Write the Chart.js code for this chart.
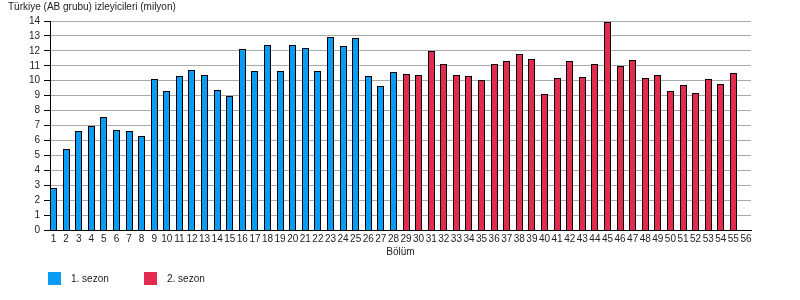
<!DOCTYPE html>
<html>
<head>
<meta charset="utf-8">
<script src="https://cdn.jsdelivr.net/npm/chart.js@4/dist/chart.umd.min.js"></script>
<style>
html,body{margin:0;padding:0;background:#fff;}
#wrap{width:800px;height:300px;}
</style>
</head>
<body>
<div id="wrap"><canvas id="c" width="800" height="300"></canvas></div>
<script>
const titleText = "Türkiye (AB grubu) izleyicileri (milyon)";
const xTitle = "Bölüm";
const seriesNames = ["1. sezon", "2. sezon"];
const season1Episodes = [1,2,3,4,5,6,7,8,9,10,11,12,13,14,15,16,17,18,19,20,21,22,23,24,25,26,27,28];
const season1Values = [2.8,5.45,6.6,7.0,7.6,6.7,6.65,6.3,10.1,9.3,10.3,10.7,10.4,9.4,9.0,12.1,10.65,12.4,10.65,12.4,12.2,10.65,12.9,12.3,12.85,10.3,9.65,10.6];
const season2Episodes = [29,30,31,32,33,34,35,36,37,38,39,40,41,42,43,44,45,46,47,48,49,50,51,52,53,54,55];
const season2Values = [10.45,10.4,12.0,11.1,10.4,10.3,10.05,11.1,11.3,11.8,11.45,9.1,10.2,11.3,10.25,11.1,13.95,11.0,11.4,10.2,10.4,9.3,9.7,9.2,10.1,9.8,10.5];
const xTickLabels = [1,2,3,4,5,6,7,8,9,10,11,12,13,14,15,16,17,18,19,20,21,22,23,24,25,26,27,28,29,30,31,32,33,34,35,36,37,38,39,40,41,42,43,44,45,46,47,48,49,50,51,52,53,54,55,56];
const yTickValues = [0,1,2,3,4,5,6,7,8,9,10,11,12,13,14];
const colors = ["#0A9BF5", "#E32B50"];

const FONT = "'Liberation Sans', Arial, sans-serif";

const pts = (xs, ys) => xs.map((x, i) => ({x: x, y: ys[i]}));

// Snap bar edges to whole pixels so the 1px outlines stay crisp
const snapPlugin = {
  id: 'snapBars',
  beforeDatasetsDraw(chart) {
    chart.data.datasets.forEach((ds, di) => {
      const meta = chart.getDatasetMeta(di);
      meta.data.forEach(el => {
        if (el.skip) return;
        const w = 7;
        const left = Math.round(el.x - w / 2);
        el.x = left + w / 2;
        el.width = w;
        el.y = Math.round(el.y);
        el.base = Math.round(el.base);
      });
    });
  }
};

const legendPlugin = {
  id: 'customLegend',
  afterDraw(chart) {
    const ctx = chart.ctx;
    ctx.save();
    ctx.font = "10px " + FONT;
    ctx.textBaseline = 'middle';
    ctx.textAlign = 'left';
    chart.data.datasets.forEach((ds, i) => {
      const x = 48 + i * 96;
      const y = 272;
      ctx.fillStyle = ds.backgroundColor;
      ctx.fillRect(x, y, 13, 13);
      ctx.fillStyle = '#222';
      ctx.fillText(ds.label, x + 23, y + 7);
    });
    ctx.restore();
  }
};

new Chart(document.getElementById('c'), {
  type: 'bar',
  data: {
    datasets: [
      {label: seriesNames[0], data: pts(season1Episodes, season1Values), backgroundColor: colors[0], borderColor: '#000', borderWidth: 1, grouped: false, barPercentage: 0.58, categoryPercentage: 1},
      {label: seriesNames[1], data: pts(season2Episodes, season2Values), backgroundColor: colors[1], borderColor: '#000', borderWidth: 1, grouped: false, barPercentage: 0.58, categoryPercentage: 1}
    ]
  },
  options: {
    responsive: false,
    animation: false,
    devicePixelRatio: 1,
    layout: {padding: {left: 8, right: 49, top: 0, bottom: 40}},
    plugins: {
      legend: {display: false},
      tooltip: {enabled: false},
      title: {
        display: true, text: titleText, align: 'start', color: '#222',
        font: {family: FONT, size: 10, weight: 'normal'},
        padding: {top: 1, bottom: 8}
      }
    },
    scales: {
      x: {
        type: 'linear',
        offset: false,
        min: 0.722, max: 56.4,
        afterBuildTicks(scale) { scale.ticks = xTickLabels.map(v => ({value: v})); },
        afterFit(scale) { scale.height = 30; },
        grid: {display: true, offset: false, drawOnChartArea: false, drawTicks: false, color: '#000'},
        border: {display: true, color: '#000', width: 1},
        ticks: {autoSkip: false, maxRotation: 0, color: '#222', padding: 3, font: {family: FONT, size: 10}, callback: v => String(v)},
        title: {display: true, text: xTitle, color: '#222', font: {family: FONT, size: 10}, padding: {top: 0, bottom: 2}}
      },
      y: {
        min: 0, max: 14,
        afterBuildTicks(scale) { scale.ticks = yTickValues.map(v => ({value: v})); },
        afterFit(scale) { scale.width = 42; },
        grid: {color: '#aaaaaa', lineWidth: 1, drawTicks: true, tickLength: 6, tickColor: '#000'},
        border: {display: true, color: '#000', width: 1},
        ticks: {autoSkip: false, color: '#222', padding: 4, font: {family: FONT, size: 10}}
      }
    }
  },
  plugins: [snapPlugin, legendPlugin]
});
</script>
</body>
</html>
